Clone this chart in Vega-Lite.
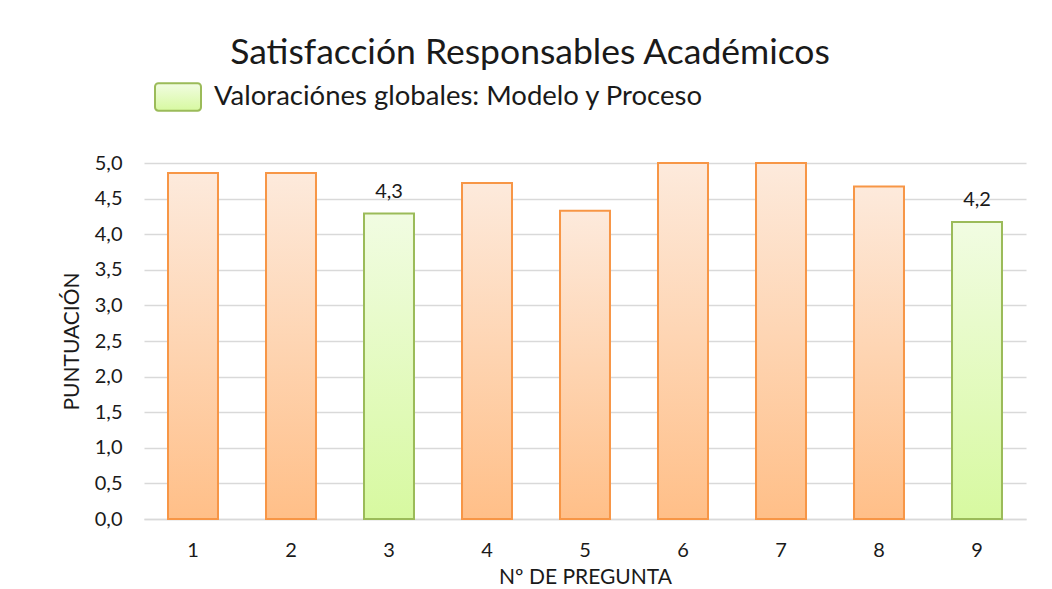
{
  "$schema": "https://vega.github.io/schema/vega-lite/v6.json",
  "autosize": {"type": "none"},
  "width": 882,
  "height": 356,
  "padding": {"left": 144, "top": 163, "right": 26, "bottom": 70},
  "background": "white",
  "config": {
    "font": "Lato",
    "locale": {"number": {"decimal": ",", "thousands": ".", "grouping": [3], "currency": ["", " €"]}},
    "view": {"stroke": null},
    "axis": {"labelFont": "Lato", "titleFont": "Lato", "labelColor": "#1a1a1a", "titleColor": "#1a1a1a", "titleFontWeight": "normal"}
  },
  "title": {
    "text": "Satisfacción Responsables Académicos",
    "font": "Lato",
    "fontSize": 35.5,
    "fontWeight": "normal",
    "color": "#1a1a1a",
    "anchor": "middle",
    "dx": -55,
    "offset": 2
  },
  "data": {
    "values": [
      {"pregunta": "1", "valor": 4.86, "tipo": "Otras preguntas"},
      {"pregunta": "2", "valor": 4.86, "tipo": "Otras preguntas"},
      {"pregunta": "3", "valor": 4.29, "tipo": "Valoraciónes globales: Modelo y Proceso"},
      {"pregunta": "4", "valor": 4.72, "tipo": "Otras preguntas"},
      {"pregunta": "5", "valor": 4.33, "tipo": "Otras preguntas"},
      {"pregunta": "6", "valor": 5.0, "tipo": "Otras preguntas"},
      {"pregunta": "7", "valor": 5.0, "tipo": "Otras preguntas"},
      {"pregunta": "8", "valor": 4.67, "tipo": "Otras preguntas"},
      {"pregunta": "9", "valor": 4.17, "tipo": "Valoraciónes globales: Modelo y Proceso"}
    ]
  },
  "encoding": {
    "x": {
      "field": "pregunta", "type": "nominal", "sort": ["1","2","3","4","5","6","7","8","9"],
      "scale": {"paddingInner": 0.49, "paddingOuter": 0.245},
      "axis": {
        "title": "Nº DE PREGUNTA", "titleFontSize": 21, "titlePadding": 6,
        "labelFontSize": 20, "labelAngle": 0, "labelPadding": 21,
        "ticks": false, "domain": true, "domainColor": "#D9D9D9", "domainWidth": 1.5
      }
    },
    "y": {
      "field": "valor", "type": "quantitative",
      "scale": {"domain": [0, 5], "nice": false},
      "axis": {
        "title": "PUNTUACIÓN", "titleFontSize": 21, "titlePadding": 12,
        "values": [0, 0.5, 1, 1.5, 2, 2.5, 3, 3.5, 4, 4.5, 5],
        "format": ".1f", "labelFontSize": 20, "labelPadding": 22,
        "ticks": false, "domain": false,
        "grid": true, "gridColor": "#D9D9D9", "gridWidth": 1.5
      }
    }
  },
  "layer": [
    {
      "transform": [{"filter": "datum.tipo === 'Otras preguntas'"}],
      "mark": {
        "type": "bar", "strokeWidth": 2, "stroke": "#F79646",
        "fill": {"gradient": "linear", "x1": 0, "y1": 0, "x2": 0, "y2": 1,
          "stops": [{"offset": 0, "color": "#FDEADC"}, {"offset": 1, "color": "#FFBF88"}]}
      }
    },
    {
      "transform": [{"filter": "datum.tipo !== 'Otras preguntas'"}],
      "mark": {
        "type": "bar", "strokeWidth": 2,
        "fill": {"gradient": "linear", "x1": 0, "y1": 0, "x2": 0, "y2": 1,
          "stops": [{"offset": 0, "color": "#F1FCE2"}, {"offset": 1, "color": "#D7F9A0"}]}
      },
      "encoding": {
        "stroke": {
          "field": "tipo", "type": "nominal",
          "scale": {"domain": ["Valoraciónes globales: Modelo y Proceso"], "range": ["#9BBB59"]},
          "legend": {
            "title": null, "orient": "none", "legendX": 10, "legendY": -90,
            "labelFont": "Lato", "labelFontSize": 27.5, "labelColor": "#1a1a1a", "labelLimit": 700,
            "symbolType": "M-0.85,-0.6 L0.85,-0.6 A0.15,0.15 0 0 1 1,-0.45 L1,0.45 A0.15,0.15 0 0 1 0.85,0.6 L-0.85,0.6 A0.15,0.15 0 0 1 -1,0.45 L-1,-0.45 A0.15,0.15 0 0 1 -0.85,-0.6 Z",
            "symbolSize": 2116, "symbolStrokeWidth": 2, "symbolOpacity": 1, "labelOffset": 12
          }
        }
      }
    },
    {
      "transform": [{"filter": "datum.tipo !== 'Otras preguntas'"}],
      "mark": {"type": "text", "baseline": "bottom", "dy": -12, "fontSize": 20, "font": "Lato", "color": "#1a1a1a"},
      "encoding": {
        "text": {"field": "valor", "type": "quantitative", "format": ".1f"}
      }
    }
  ]
}
